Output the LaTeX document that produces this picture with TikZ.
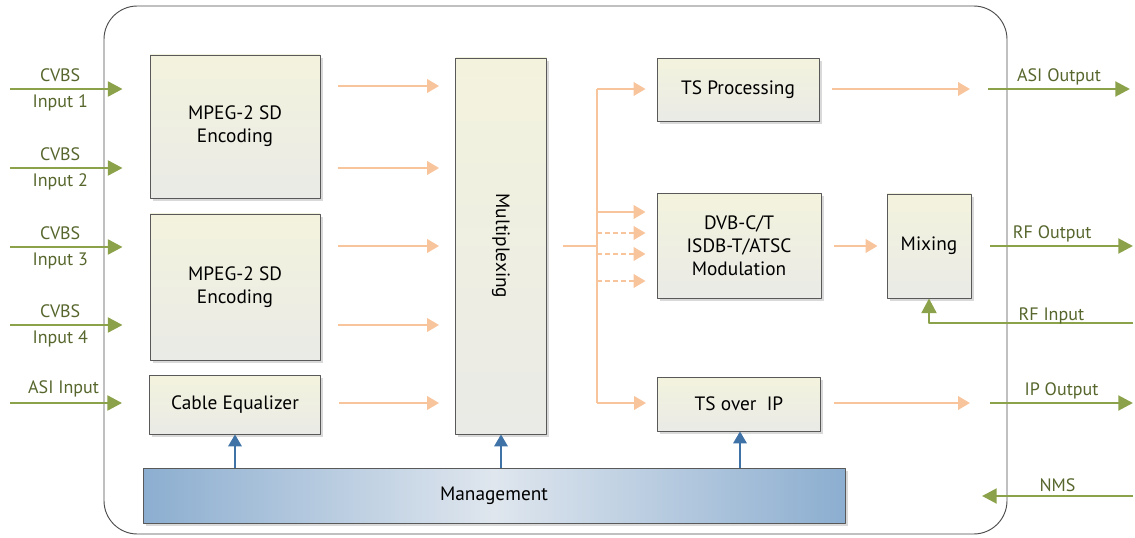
\documentclass[tikz,border=0pt]{standalone}
\usepackage{fontspec}
\setmainfont{PT Sans}
\usetikzlibrary{arrows.meta,shadows}
\definecolor{peach}{HTML}{F8C49C}
\definecolor{olivegreen}{HTML}{8BA24A}
\definecolor{olivetext}{HTML}{56662C}
\definecolor{steel}{HTML}{3F72A6}
\definecolor{boxtop}{HTML}{F3F3DD}
\definecolor{boxbot}{HTML}{EAEAE7}
\definecolor{mgside}{HTML}{8CAED0}
\definecolor{mgmid}{HTML}{DFE6EE}
\tikzset{
	blk/.style 2 args={draw=black!65,line width=0.6pt,top color=boxtop,bottom color=boxbot,
		minimum width=#1*0.75pt,minimum height=#2*0.75pt,inner sep=0pt,align=center,
		font=\fontsize{14.5}{17.25}\selectfont,
		drop shadow={shadow xshift=2pt,shadow yshift=-2pt,opacity=0.25,fill=black!60}},
	oarr/.style={draw=peach,line width=2pt,-{Triangle[length=9pt,width=10pt]}},
	garr/.style={draw=olivegreen,line width=2.2pt,-{Triangle[length=11pt,width=11pt]}},
	barr/.style={draw=steel,line width=1.8pt,-{Triangle[length=9pt,width=10pt]}},
	lbl/.style={text=olivetext,font=\fontsize{13.5}{15}\selectfont,inner sep=1pt}
}
\begin{document}
\begin{tikzpicture}[x=0.75pt,y=-0.75pt,line join=round]
	\useasboundingbox (0,0) rectangle (1135,538);
	% housing
	\draw[black!70,line width=0.7pt,rounded corners=25pt] (104,6) rectangle (1007,534);
	% blocks
	\node[blk={170}{143}] (enc1) at (235,126.5) {MPEG-2 SD\\Encoding};
	\node[blk={170}{146}] (enc2) at (235,287) {MPEG-2 SD\\Encoding};
	\node[blk={171}{59}] (eq) at (235,404.5) {Cable Equalizer};
	\node[blk={91}{376}] (mux) at (501,246) {\rotatebox{-90}{Multiplexing}};
	\node[blk={162}{63}] (tsp) at (738,90) {TS Processing};
	\node[blk={164}{105}] (mod) at (739,246) {DVB-C/T\\ISDB-T/ATSC\\Modulation};
	\node[blk={163}{54}] (tsip) at (739,404) {TS over\ \ IP};
	\node[blk={84}{104}] (mix) at (929,246) {Mixing};
	\node[blk={702}{55},top color=mgside,bottom color=mgside,left color=mgside,right color=mgside,middle color=mgmid]
		(mgmt) at (494,496) {Management};
	\path (10,89) coordinate (in1)
		(10,168) coordinate (in2)
		(10,247) coordinate (in3)
		(10,325) coordinate (in4)
		(10,403) coordinate (in5)
		(597,89) coordinate (bt)
		(597,246) coordinate (bm)
		(597,403) coordinate (bb)
		(988,89) coordinate (asia)
		(1130,89) coordinate (asib)
		(990,246) coordinate (rfa)
		(1133,246) coordinate (rfb)
		(1133,323) coordinate (rfi)
		(990,403) coordinate (ipa)
		(1133,403) coordinate (ipb)
		(1133,496) coordinate (nms);
	% inputs
	\draw[garr,shorten >=27*0.75pt] (in1)--(enc1.west |- in1)node[lbl,pos=0.36,above=3pt]{CVBS}node[lbl,pos=0.36,below=2pt]{Input 1};
	\draw[garr,shorten >=27*0.75pt] (in2)--(enc1.west |- in2)node[lbl,pos=0.36,above=3pt]{CVBS}node[lbl,pos=0.36,below=2pt]{Input 2};
	\draw[garr,shorten >=27*0.75pt] (in3)--(enc2.west |- in3)node[lbl,pos=0.36,above=3pt]{CVBS}node[lbl,pos=0.36,below=2pt]{Input 3};
	\draw[garr,shorten >=27*0.75pt] (in4)--(enc2.west |- in4)node[lbl,pos=0.36,above=3pt]{CVBS}node[lbl,pos=0.36,below=2pt]{Input 4};
	\draw[garr,shorten >=27*0.75pt] (in5)--(eq.west |- in5)node[lbl,pos=0.385,above=2pt]{ASI Input};
	% into the multiplexer
	\draw[oarr,shorten <=18*0.75pt,shorten >=16*0.75pt] (enc1.east |- 0,86)--(mux.west |- 0,86);
	\draw[oarr,shorten <=18*0.75pt,shorten >=16*0.75pt] (enc1.east |- in2)--(mux.west |- in2);
	\draw[oarr,shorten <=18*0.75pt,shorten >=16*0.75pt] (enc2.east |- bm)--(mux.west |- bm);
	\draw[oarr,shorten <=18*0.75pt,shorten >=16*0.75pt] (enc2.east |- in4)--(mux.west |- in4);
	\draw[oarr,shorten <=18*0.75pt,shorten >=16*0.75pt] (eq.east |- in5)--(mux.west |- in5);
	% distribution bus
	\draw[peach,line width=2pt,shorten <=16*0.75pt] (mux.east |- bm)--(bm);
	\draw[peach,line width=2pt] (bt)--(bb);
	\draw[oarr,shorten >=11*0.75pt] (bt)--(tsp.west |- bt);
	\draw[oarr,shorten >=11*0.75pt] (bt |- 0,212)--(mod.west |- 0,212);
	\draw[oarr,dash pattern=on 3.5pt off 2.5pt,shorten >=11*0.75pt] (bt |- 0,233)--(mod.west |- 0,233);
	\draw[oarr,dash pattern=on 3.5pt off 2.5pt,shorten >=11*0.75pt] (bt |- 0,254)--(mod.west |- 0,254);
	\draw[oarr,dash pattern=on 3.5pt off 2.5pt,shorten >=11*0.75pt] (bt |- 0,281)--(mod.west |- 0,281);
	\draw[oarr,shorten >=11*0.75pt] (bb)--(tsip.west |- bb);
	% outputs
	\draw[oarr,shorten <=13*0.75pt,shorten >=18*0.75pt] (tsp.east |- bt)--(asia);
	\draw[garr] (asia)--(asib)node[lbl,midway,above=1pt]{ASI Output};
	\draw[oarr,shorten <=13*0.75pt,shorten >=9*0.75pt] (mod.east)--(mix.west);
	\draw[garr,shorten <=19*0.75pt] (mix.east)--(rfb)node[lbl,pos=0.5,above=1pt]{RF Output};
	\draw[garr] (rfi)--(mix.south |- rfi)node[lbl,pos=0.4,above=-3pt]{RF Input}--(mix.south);
	\draw[oarr,shorten <=13*0.75pt,shorten >=20*0.75pt] (tsip.east |- bb)--(ipa);
	\draw[garr] (ipa)--(ipb)node[lbl,midway,above=1pt]{IP Output};
	\draw[garr] (nms)--(982,496)node[lbl,midway,above=1pt]{NMS};
	% management
	\draw[barr] (mgmt.north -| eq)--(eq.south);
	\draw[barr] (mgmt.north -| mux)--(mux.south);
	\draw[barr] (mgmt.north -| 740,0)--(tsip.south -| 740,0);
\end{tikzpicture}
\end{document}
